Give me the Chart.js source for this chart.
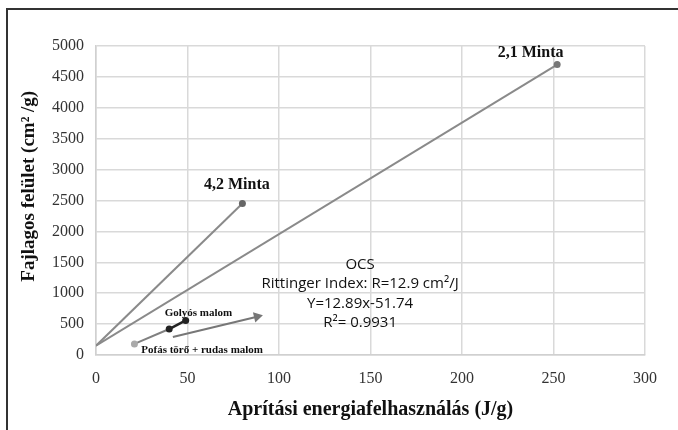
<!DOCTYPE html>
<html>
<head>
<meta charset="utf-8">
<script src="https://cdn.jsdelivr.net/npm/chart.js@4"></script>
<style>
  html, body { margin: 0; padding: 0; background: #fff; }
  #wrap { position: relative; width: 678px; height: 430px; overflow: hidden; }
  #frame { position: absolute; left: 6px; top: 8px; width: 700px; height: 440px;
           border-top: 2px solid #333; border-left: 2px solid #333; }
  canvas { position: absolute; left: 0; top: 0; }
</style>
</head>
<body>
<div id="wrap">
  <div id="frame"></div>
  <canvas id="myChart" width="678" height="430"></canvas>
</div>
<script>
// Data
const minta42X = [0, 80];
const minta42Y = [150, 2450];
const minta21X = [0, 252];
const minta21Y = [150, 4700];
// Pofás törő + rudas malom -> Golyós malom
const malomX = [21, 40, 49];
const malomY = [180, 420, 560];
const arrowX = [42, 88];
const arrowY = [290, 620];

const xTicks = [0, 50, 100, 150, 200, 250, 300];
const yTicks = [0, 500, 1000, 1500, 2000, 2500, 3000, 3500, 4000, 4500, 5000];

// text labels: [text, x, y, font, horizontal stretch]
const labels = [
    ['4,2 Minta', 77, 2750, 'bold 16px "Liberation Serif"', 1],
    ['2,1 Minta', 237.5, 4890, 'bold 16px "Liberation Serif"', 1],
    ['Golyós malom', 56, 680, 'bold 10px "Liberation Serif"', 1.1],
    ['Pofás törő + rudas malom', 58, 80, 'bold 10px "Liberation Serif"', 1.1],
    ['OCS', 144.3, 1456, '15px "Open Sans"', 1],
    ['Rittinger Index: R=12.9 cm\u00b2/J', 144.3, 1149, '15px "Open Sans"', 1],
    ['Y=12.89x-51.74', 144.3, 825, '15px "Open Sans"', 1],
    ['R\u00b2= 0.9931', 144.3, 518, '15px "Open Sans"', 1]
];

function pts(xs, ys) {
    let out = [];
    for (let i = 0; i < xs.length; i++) out.push({x: xs[i], y: ys[i]});
    return out;
}

const textPlugin = {
    id: 'texts',
    afterDatasetsDraw(chart) {
        const c = chart.ctx;
        const xs = chart.scales.x, ys = chart.scales.y;
        labels.forEach(l => {
            c.save();
            c.fillStyle = '#111';
            c.textAlign = 'center';
            c.textBaseline = 'middle';
            c.font = l[3];
            c.translate(xs.getPixelForValue(l[1]), ys.getPixelForValue(l[2]));
            c.scale(l[4], 1);
            c.fillText(l[0], 0, 0);
            c.restore();
        });
    }
};

const ctx = document.getElementById('myChart').getContext('2d');
const myChart = new Chart(ctx, {
    type: 'scatter',
    data: {
        datasets: [
            {
                data: pts(minta42X, minta42Y),
                showLine: true,
                borderColor: '#8a8a8a',
                borderWidth: 2,
                pointRadius: [0, 3.5],
                pointBackgroundColor: '#666',
                pointBorderWidth: 0
            },
            {
                data: pts(minta21X, minta21Y),
                showLine: true,
                borderColor: '#8a8a8a',
                borderWidth: 2,
                pointRadius: [0, 3.5],
                pointBackgroundColor: '#777',
                pointBorderWidth: 0
            },
            {
                data: pts(malomX, malomY),
                showLine: true,
                borderColor: '#222',
                borderWidth: 2.5,
                segment: {
                    borderColor: c => c.p0DataIndex === 0 ? '#808080' : '#222',
                    borderWidth: c => c.p0DataIndex === 0 ? 2 : 2.5
                },
                pointRadius: 3.5,
                pointBackgroundColor: ['#aaa', '#222', '#222'],
                pointBorderWidth: 0
            },
            {
                data: pts(arrowX, arrowY),
                showLine: true,
                borderColor: '#777',
                borderWidth: 2,
                pointStyle: 'triangle',
                pointRadius: [0, 6],
                rotation: 77,
                pointBackgroundColor: '#777',
                pointBorderWidth: 0
            }
        ]
    },
    options: {
        responsive: false,
        animation: false,
        layout: { padding: { left: 0, right: 33, top: 46, bottom: 0 } },
        plugins: {
            legend: { display: false },
            tooltip: { enabled: false }
        },
        scales: {
            x: {
                type: 'linear',
                min: 0, max: 300,
                afterBuildTicks: s => { s.ticks = xTicks.map(v => ({value: v})); },
                afterFit: s => { s.height = 75; },
                grid: { color: '#d9d9d9', lineWidth: 1.5, drawTicks: false },
                border: { color: '#d0d0d0', width: 1.5 },
                ticks: { color: '#333', padding: 14, font: { family: 'Liberation Serif', size: 16 } },
                title: {
                    display: true,
                    text: 'Aprítási energiafelhasználás (J/g)',
                    color: '#111',
                    font: { family: 'Liberation Serif', size: 20, weight: 'bold' },
                    padding: { top: 4, bottom: 8 }
                }
            },
            y: {
                type: 'linear',
                min: 0, max: 5000,
                afterBuildTicks: s => { s.ticks = yTicks.map(v => ({value: v})); },
                afterFit: s => { s.width = 96; },
                grid: { color: '#d9d9d9', lineWidth: 1.5, drawTicks: false },
                border: { color: '#d0d0d0', width: 1.5 },
                ticks: {
                    color: '#333', padding: 12,
                    font: { family: 'Liberation Serif', size: 16 },
                    callback: v => String(v)
                },
                title: {
                    display: true,
                    text: '      Fajlagos felület (cm\u00b2 /g)',
                    color: '#111',
                    font: { family: 'Liberation Serif', size: 19, weight: 'bold' },
                    padding: { top: 18, bottom: 0 }
                }
            }
        }
    },
    plugins: [textPlugin]
});
</script>
</body>
</html>
